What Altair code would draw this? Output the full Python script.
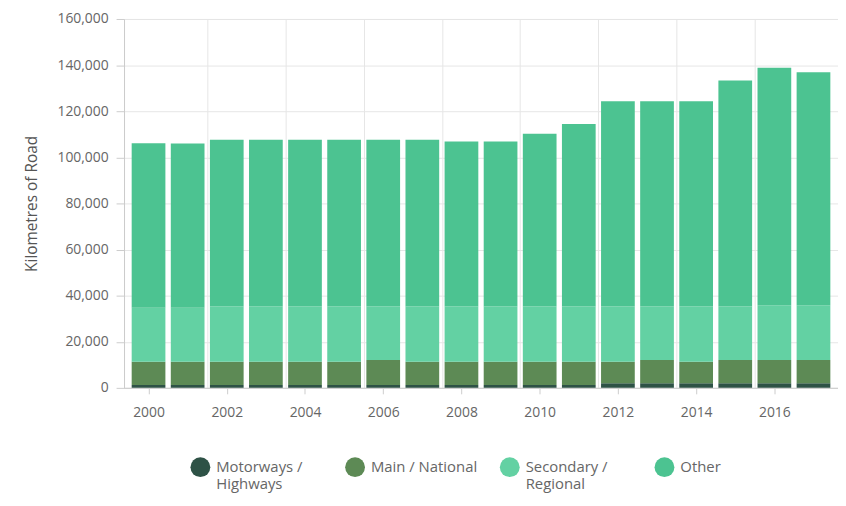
import altair as alt
import pandas as pd

years = list(range(2000, 2018))
categories = ["Motorways / Highways", "Main / National", "Secondary / Regional", "Other"]
colors = ["#2e5246", "#5d8a55", "#63d1a3", "#4cc391"]

motorways = [1200] * 12 + [2000] * 6
main_national = [10100, 10100, 10100, 10100, 10100, 10100, 10900, 10100, 10100, 10100,
                 10100, 10100, 9300, 10100, 9300, 10100, 10100, 10100]
secondary = [23400, 23400, 24000, 24000, 24000, 24000, 23200, 24000, 24000, 24000,
             24000, 24000, 24000, 23200, 24000, 23200, 23700, 23700]
other = [71400, 71300, 72300, 72300, 72300, 72300, 72300, 72300, 71600, 71600,
         74900, 79200, 89000, 89000, 89000, 98000, 103000, 101100]

y_ticks = list(range(0, 160001, 20000))
x_ticks = list(range(2000, 2017, 2))
x_grid = [y + 0.5 for y in years if y % 2 == 1 and y < 2017]

series = [motorways, main_national, secondary, other]
rows = []
for ci, (cat, vals) in enumerate(zip(categories, series)):
    for yr, v in zip(years, vals):
        rows.append({"year": yr, "type": cat, "km": v, "idx": ci})
df = pd.DataFrame(rows)

FONT = "Open Sans"
xscale = alt.Scale(domain=[1999.5, 2017.5], nice=False, zero=False)

label_expr = (
    "length(datum.label) > 16 ? "
    "[slice(datum.label, 0, indexof(datum.label, '/') + 1), "
    "slice(datum.label, indexof(datum.label, '/') + 2)] : [datum.label, '']"
)

bars = alt.Chart(df).mark_bar(size=34).encode(
    x=alt.X("year:Q", scale=xscale, title=None,
            axis=alt.Axis(values=x_ticks, format="d", grid=False, tickSize=6,
                          domainColor="#cccccc", tickColor="#cccccc",
                          labelColor="#666666", labelFontSize=14, labelFont=FONT,
                          labelPadding=12, orient="bottom")),
    y=alt.Y("km:Q", stack="zero",
            scale=alt.Scale(domain=[0, 160000], nice=False),
            title="Kilometres of Road",
            axis=alt.Axis(values=y_ticks, format=",d", tickSize=8, grid=True,
                          gridColor="#e6e6e6", domainColor="#cccccc", tickColor="#cccccc",
                          labelColor="#666666", labelFontSize=14, labelFont=FONT,
                          labelPadding=8, titleColor="#555555", titleFontSize=15.5,
                          titleFont=FONT, titleFontWeight="normal", titlePadding=18)),
    color=alt.Color("type:N", scale=alt.Scale(domain=categories, range=colors), title=None,
                    legend=alt.Legend(orient="none", legendX=67, legendY=442,
                                      direction="horizontal", columns=4, gridAlign="all",
                                      columnPadding=22, symbolType="circle", symbolSize=400,
                                      symbolStrokeWidth=0, symbolOpacity=1, labelOffset=6,
                                      labelFont=FONT, labelFontSize=15, labelColor="#666666",
                                      labelBaseline="middle", labelLimit=200,
                                      labelExpr=label_expr)),
    order=alt.Order("idx:Q", sort="ascending"),
)

grid = alt.Chart(df).mark_point(opacity=0).encode(
    x=alt.X("year:Q", scale=xscale, title=None,
            axis=alt.Axis(values=x_grid, grid=True, gridColor="#e6e6e6", labels=False,
                          ticks=False, domain=False, orient="bottom")),
)

chart = alt.layer(grid, bars).resolve_axis(x="independent").properties(
    width=720, height=372,
    autosize=alt.AutoSizeParams(type="none"),
    padding={"left": 117, "top": 9, "right": 0, "bottom": 110},
).configure_view(stroke=None).configure(background="white")

chart.save("out.html", embed_options={"renderer": "svg", "actions": False})
